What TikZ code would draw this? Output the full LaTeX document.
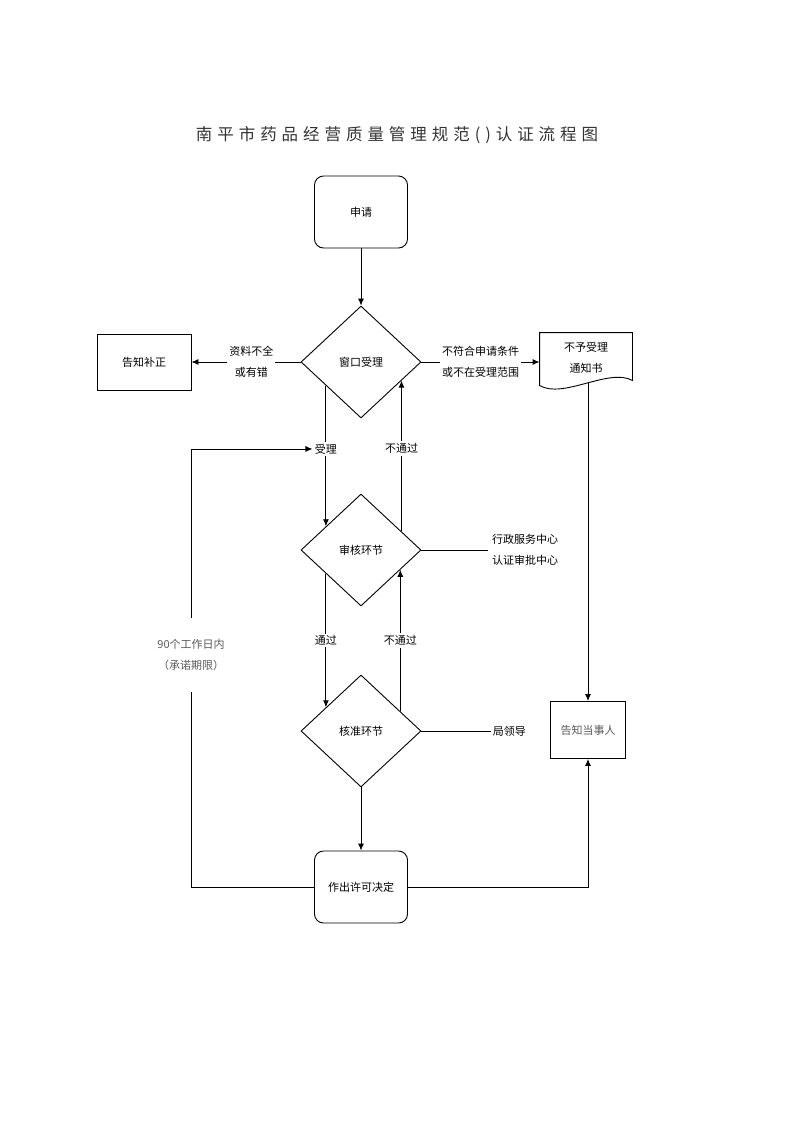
\documentclass[tikz,border=0pt]{standalone}
\usepackage{fontspec}
\setmainfont{Noto Sans CJK SC}
\newfontfamily\titlefont[LetterSpace=30]{Noto Sans CJK SC}
\usetikzlibrary{shapes.geometric,arrows.meta,calc}

\begin{document}
\begin{tikzpicture}[x=1pt, y=-1pt, line width=0.9pt, >={Latex[length=7pt,width=6pt]},
  every node/.style={font=\fontsize{11}{21}\selectfont, align=center},
  rbox/.style={draw, rounded corners=9pt, minimum width=93pt, minimum height=72pt},
  sbox/.style={draw, minimum width=94pt, minimum height=56pt},
  check/.style={draw, diamond, inner sep=0pt, minimum width=120pt, minimum height=112pt},
  lbl/.style={fill=white, inner sep=2pt}]
  \useasboundingbox (0,0) rectangle (793,1122);
  \node[font=\titlefont\fontsize{16.5}{18}\selectfont, text=black!80] (title) at (397,135) {南平市药品经营质量管理规范()认证流程图};
  \node[rbox] (apply) at (361,212) {申请};
  \node[check] (win) at (361,362) {窗口受理};
  \node[sbox] (fix) at (144,362) {告知补正};
  \node[minimum width=92pt, minimum height=50pt] (doc) at (586,358) {不予受理\\通知书};
  \draw (doc.north west) -- (doc.north east) -- ($(doc.south east)+(0,-3)$)
    .. controls ($(doc.south)+(23,-16)$) and ($(doc.south)+(-23,16)$) .. ($(doc.south west)+(0,2)$) -- cycle;
  \node[check] (rev) at (361,550) {审核环节};
  \node[check] (app) at (361,731) {核准环节};
  \node[rbox] (dec) at (361,887) {作出许可决定};
  \node[sbox, minimum width=75pt, minimum height=57pt, text=black!65] (inf) at (588,730) {告知当事人};
  \node (ctr) at (525,550) {行政服务中心\\认证审批中心};
  \node[anchor=west, inner sep=1.5pt] (lead) at (491,731) {局领导};
  \node[text=black!65, minimum height=74pt] (term) at (191,655) {90个工作日内\\（承诺期限）};

  \draw[->] (apply) -- (win);
  \draw[->] (win) -- node[lbl, pos=0.45] {资料不全\\或有错} (fix);
  \draw[->] (win.east) -- node[lbl] {不符合申请条件\\或不在受理范围} (win.east -| doc.west);
  \draw[->] ($(win.west)!0.42!(win.south)$) -- node[lbl, pos=0.45] (acc) {受理} ($(rev.west)!0.42!(rev.north)$);
  \draw[->] ($(rev.north)!0.67!(rev.east)$) -- node[lbl, pos=0.55] {不通过} ($(win.south)!0.67!(win.east)$);
  \draw (rev) -- (ctr);
  \draw[->] ($(rev.west)!0.42!(rev.south)$) -- node[lbl] {通过} ($(app.west)!0.42!(app.north)$);
  \draw[->] ($(app.north)!0.65!(app.east)$) -- node[lbl] {不通过} ($(rev.south)!0.65!(rev.east)$);
  \draw (app) -- (lead);
  \draw[->] (app) -- (dec);
  \draw (dec.west) -| (term.south);
  \draw[->] (term.north) |- (acc.west);
  \draw[->] (dec.east) -| (inf.south);
  \draw[->] (inf.north |- doc.south) -- (inf.north);
\end{tikzpicture}
\end{document}
